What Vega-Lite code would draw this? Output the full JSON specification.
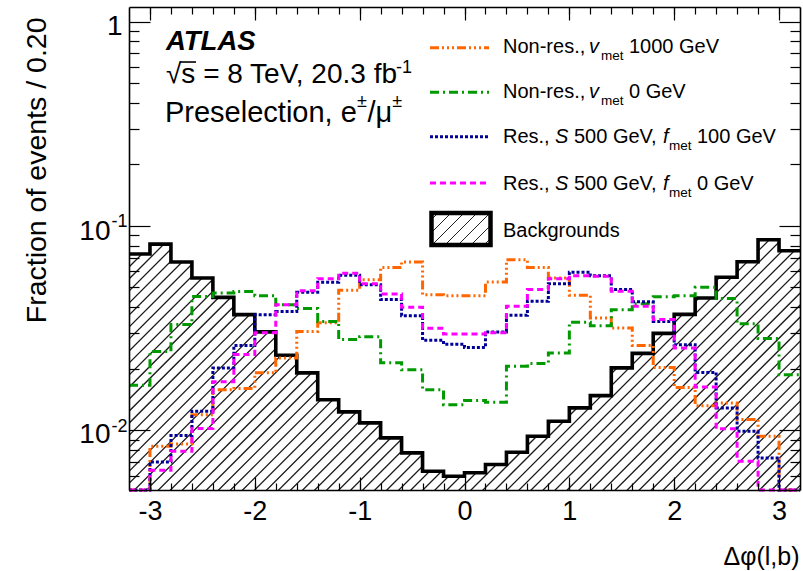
{
  "$schema": "https://vega.github.io/schema/vega-lite/v6.json",
  "width": 671,
  "height": 483,
  "autosize": {"type": "none"},
  "padding": {"left": 129, "top": 7, "right": 3, "bottom": 81},
  "background": "white",
  "config": {"view": {"stroke": null}, "font": "Liberation Sans"},
  "datasets": {
    "bins": [
      {"lo": -3.2, "hi": -3.0, "bkg": 0.0729, "nonres_v1000": 0.0051, "nonres_v0": 0.0166, "res_f100": 0.0051, "res_f0": 0.0051},
      {"lo": -3.0, "hi": -2.8, "bkg": 0.0815, "nonres_v1000": 0.00835, "nonres_v0": 0.0243, "res_f100": 0.0070, "res_f0": 0.00637},
      {"lo": -2.8, "hi": -2.6, "bkg": 0.0666, "nonres_v1000": 0.00856, "nonres_v0": 0.0329, "res_f100": 0.00942, "res_f0": 0.00789},
      {"lo": -2.6, "hi": -2.4, "bkg": 0.0556, "nonres_v1000": 0.0119, "nonres_v0": 0.0452, "res_f100": 0.0124, "res_f0": 0.0102},
      {"lo": -2.4, "hi": -2.2, "bkg": 0.0447, "nonres_v1000": 0.0158, "nonres_v0": 0.0470, "res_f100": 0.0202, "res_f0": 0.0173},
      {"lo": -2.2, "hi": -2.0, "bkg": 0.0368, "nonres_v1000": 0.0160, "nonres_v0": 0.0478, "res_f100": 0.0260, "res_f0": 0.0235},
      {"lo": -2.0, "hi": -1.8, "bkg": 0.0303, "nonres_v1000": 0.0191, "nonres_v0": 0.0456, "res_f100": 0.0368, "res_f0": 0.0300},
      {"lo": -1.8, "hi": -1.6, "bkg": 0.0233, "nonres_v1000": 0.0226, "nonres_v0": 0.0412, "res_f100": 0.0381, "res_f0": 0.0412},
      {"lo": -1.6, "hi": -1.4, "bkg": 0.0191, "nonres_v1000": 0.0304, "nonres_v0": 0.0394, "res_f100": 0.0474, "res_f0": 0.0482},
      {"lo": -1.4, "hi": -1.2, "bkg": 0.0141, "nonres_v1000": 0.0336, "nonres_v0": 0.0341, "res_f100": 0.0531, "res_f0": 0.0552},
      {"lo": -1.2, "hi": -1.0, "bkg": 0.0123, "nonres_v1000": 0.0485, "nonres_v0": 0.0278, "res_f100": 0.0574, "res_f0": 0.0587},
      {"lo": -1.0, "hi": -0.8, "bkg": 0.01087, "nonres_v1000": 0.0546, "nonres_v0": 0.0287, "res_f100": 0.0516, "res_f0": 0.0522},
      {"lo": -0.8, "hi": -0.6, "bkg": 0.00918, "nonres_v1000": 0.0627, "nonres_v0": 0.0214, "res_f100": 0.0436, "res_f0": 0.0465},
      {"lo": -0.6, "hi": -0.4, "bkg": 0.00775, "nonres_v1000": 0.0666, "nonres_v0": 0.0198, "res_f100": 0.0364, "res_f0": 0.0400},
      {"lo": -0.4, "hi": -0.2, "bkg": 0.0063, "nonres_v1000": 0.0461, "nonres_v0": 0.0158, "res_f100": 0.0276, "res_f0": 0.0316},
      {"lo": -0.2, "hi": 0.0, "bkg": 0.00596, "nonres_v1000": 0.0456, "nonres_v0": 0.01335, "res_f100": 0.0264, "res_f0": 0.0296},
      {"lo": 0.0, "hi": 0.2, "bkg": 0.00619, "nonres_v1000": 0.0456, "nonres_v0": 0.0140, "res_f100": 0.0254, "res_f0": 0.0296},
      {"lo": 0.2, "hi": 0.4, "bkg": 0.0068, "nonres_v1000": 0.0532, "nonres_v0": 0.0137, "res_f100": 0.0303, "res_f0": 0.0300},
      {"lo": 0.4, "hi": 0.6, "bkg": 0.0078, "nonres_v1000": 0.0684, "nonres_v0": 0.0206, "res_f100": 0.0366, "res_f0": 0.0405},
      {"lo": 0.6, "hi": 0.8, "bkg": 0.00935, "nonres_v1000": 0.0627, "nonres_v0": 0.0212, "res_f100": 0.0428, "res_f0": 0.0488},
      {"lo": 0.8, "hi": 1.0, "bkg": 0.01107, "nonres_v1000": 0.0556, "nonres_v0": 0.0239, "res_f100": 0.0522, "res_f0": 0.0552},
      {"lo": 1.0, "hi": 1.2, "bkg": 0.01287, "nonres_v1000": 0.0458, "nonres_v0": 0.0338, "res_f100": 0.0594, "res_f0": 0.0571},
      {"lo": 1.2, "hi": 1.4, "bkg": 0.01478, "nonres_v1000": 0.0354, "nonres_v0": 0.0325, "res_f100": 0.0571, "res_f0": 0.0568},
      {"lo": 1.4, "hi": 1.6, "bkg": 0.0202, "nonres_v1000": 0.0317, "nonres_v0": 0.0389, "res_f100": 0.0488, "res_f0": 0.0479},
      {"lo": 1.6, "hi": 1.8, "bkg": 0.0238, "nonres_v1000": 0.0260, "nonres_v0": 0.0416, "res_f100": 0.0426, "res_f0": 0.0405},
      {"lo": 1.8, "hi": 2.0, "bkg": 0.0298, "nonres_v1000": 0.0203, "nonres_v0": 0.0450, "res_f100": 0.0341, "res_f0": 0.0348},
      {"lo": 2.0, "hi": 2.2, "bkg": 0.0369, "nonres_v1000": 0.0162, "nonres_v0": 0.0456, "res_f100": 0.0262, "res_f0": 0.0253},
      {"lo": 2.2, "hi": 2.4, "bkg": 0.0444, "nonres_v1000": 0.0132, "nonres_v0": 0.0501, "res_f100": 0.0192, "res_f0": 0.0163},
      {"lo": 2.4, "hi": 2.6, "bkg": 0.0561, "nonres_v1000": 0.0136, "nonres_v0": 0.0441, "res_f100": 0.01287, "res_f0": 0.01016},
      {"lo": 2.6, "hi": 2.8, "bkg": 0.0668, "nonres_v1000": 0.0113, "nonres_v0": 0.0332, "res_f100": 0.00989, "res_f0": 0.00705},
      {"lo": 2.8, "hi": 3.0, "bkg": 0.0856, "nonres_v1000": 0.00935, "nonres_v0": 0.0281, "res_f100": 0.00731, "res_f0": 0.0051},
      {"lo": 3.0, "hi": 3.2, "bkg": 0.0756, "nonres_v1000": 0.0051, "nonres_v0": 0.0187, "res_f100": 0.0051, "res_f0": 0.0051}
    ]
  },
  "resolve": {"axis": {"x": "independent", "y": "independent"}},
  "layer": [
    {
      "description": "Diagonal hatching: one very wide dashed rule at 45 degrees, clipped to the frame",
      "data": {"values": [{}]},
      "mark": {"type": "rule", "clip": true, "stroke": "#1a1a1a", "strokeWidth": 1100, "strokeDash": [1.3, 7.2]},
      "encoding": {
        "x": {"datum": -4.2, "type": "quantitative",
              "scale": {"domain": [-3.2, 3.2], "nice": false, "zero": false},
              "axis": {"orient": "bottom", "values": [-3.0,-2.8,-2.6,-2.4,-2.2,-2.0,-1.8,-1.6,-1.4,-1.2,-1.0,-0.8,-0.6,-0.4,-0.2,0,0.2,0.4,0.6,0.8,1.0,1.2,1.4,1.6,1.8,2.0,2.2,2.4,2.6,2.8,3.0],
                       "tickSize": -7, "tickWidth": 1.2, "tickColor": "black", "domain": false, "labels": false, "title": null, "grid": false, "zindex": 1}},
        "y": {"datum": 3.848, "type": "quantitative",
              "scale": {"type": "log", "domain": [0.0051, 1.18], "nice": false},
              "axis": {"orient": "left", "values": [0.006,0.007,0.008,0.009,0.02,0.03,0.04,0.05,0.06,0.07,0.08,0.09,0.2,0.3,0.4,0.5,0.6,0.7,0.8,0.9],
                       "tickSize": -10, "tickWidth": 1.2, "tickColor": "black", "domain": false, "labels": false, "title": null, "grid": false, "zindex": 1}},
        "x2": {"datum": 4.2},
        "y2": {"datum": 0.000188}
      }
    },
    {
      "description": "White cover above the background histogram so the hatching only shows below it",
      "data": {"name": "bins"},
      "mark": {"type": "rect", "clip": true, "fill": "white", "stroke": "white", "strokeWidth": 1},
      "encoding": {
        "x": {"field": "lo", "type": "quantitative",
              "scale": {"domain": [-3.2, 3.2], "nice": false, "zero": false},
              "axis": {"orient": "top", "values": [-3.0,-2.8,-2.6,-2.4,-2.2,-2.0,-1.8,-1.6,-1.4,-1.2,-1.0,-0.8,-0.6,-0.4,-0.2,0,0.2,0.4,0.6,0.8,1.0,1.2,1.4,1.6,1.8,2.0,2.2,2.4,2.6,2.8,3.0],
                       "tickSize": -7, "tickWidth": 1.2, "tickColor": "black", "domain": false, "labels": false, "title": null, "grid": false, "zindex": 1}},
        "x2": {"field": "hi"},
        "y": {"field": "bkg", "type": "quantitative",
              "scale": {"type": "log", "domain": [0.0051, 1.18], "nice": false},
              "axis": {"orient": "right", "values": [0.006,0.007,0.008,0.009,0.02,0.03,0.04,0.05,0.06,0.07,0.08,0.09,0.2,0.3,0.4,0.5,0.6,0.7,0.8,0.9],
                       "tickSize": -10, "tickWidth": 1.2, "tickColor": "black", "domain": false, "labels": false, "title": null, "grid": false, "zindex": 1}},
        "y2": {"datum": 1.18}
      }
    },
    {
      "description": "Background histogram outline",
      "data": {"name": "bins"},
      "transform": [{"fold": ["lo", "hi"], "as": ["edge", "phi"]}],
      "mark": {"type": "line", "stroke": "black", "strokeWidth": 3.6, "strokeJoin": "miter", "clip": true},
      "encoding": {
        "x": {"field": "phi", "type": "quantitative",
              "scale": {"domain": [-3.2, 3.2], "nice": false, "zero": false},
              "axis": {"orient": "bottom", "values": [-3, -2, -1, 0, 1, 2, 3],
                       "tickSize": -13, "tickWidth": 1.2, "tickColor": "black",
                       "domain": true, "domainColor": "black", "domainWidth": 1.6,
                       "labels": true, "labelExpr": "'' + datum.value", "labelFont": "Liberation Sans", "labelFontSize": 27, "labelColor": "black",
                       "labelPadding": 21, "labelBaseline": "top", "labelFlush": false, "labelOverlap": false,
                       "title": "Δφ(l,b)", "titleFont": "Liberation Sans", "titleFontSize": 25, "titleFontWeight": "normal", "titleColor": "black",
                       "titleAnchor": "end", "titleAlign": "right", "titleBaseline": "alphabetic", "titleX": 670, "titleY": 74,
                       "grid": false, "zindex": 1}},
        "y": {"field": "bkg", "type": "quantitative",
              "scale": {"type": "log", "domain": [0.0051, 1.18], "nice": false},
              "axis": {"orient": "left", "values": [0.01, 0.1, 1],
                       "tickSize": -21, "tickWidth": 1.2, "tickColor": "black",
                       "domain": true, "domainColor": "black", "domainWidth": 1.6, "labels": false,
                       "title": "Fraction of events / 0.20", "titleFont": "Liberation Sans", "titleFontSize": 28.5, "titleFontWeight": "normal", "titleColor": "black",
                       "titleAngle": -90, "titleAlign": "right", "titleBaseline": "alphabetic", "titleX": -84, "titleY": 10,
                       "grid": false, "zindex": 1}},
        "order": [{"field": "lo", "type": "quantitative"}, {"field": "edge", "type": "ordinal", "sort": "descending"}]
      }
    },
    {
      "description": "Signal histograms drawn as dashed step lines",
      "data": {"name": "bins"},
      "transform": [
        {"fold": ["nonres_v1000", "nonres_v0", "res_f100", "res_f0"], "as": ["sample", "frac"]},
        {"fold": ["lo", "hi"], "as": ["edge", "phi"]}
      ],
      "mark": {"type": "line", "strokeWidth": 3, "strokeJoin": "miter"},
      "encoding": {
        "x": {"field": "phi", "type": "quantitative",
              "scale": {"domain": [-3.2, 3.2], "nice": false, "zero": false},
              "axis": {"orient": "top", "values": [-3, -2, -1, 0, 1, 2, 3],
                       "tickSize": -13, "tickWidth": 1.2, "tickColor": "black",
                       "domain": true, "domainColor": "black", "domainWidth": 1.6, "labels": false, "title": null, "grid": false, "zindex": 1}},
        "y": {"field": "frac", "type": "quantitative",
              "scale": {"type": "log", "domain": [0.0051, 1.18], "nice": false},
              "axis": {"orient": "right", "values": [0.01, 0.1, 1],
                       "tickSize": -21, "tickWidth": 1.2, "tickColor": "black",
                       "domain": true, "domainColor": "black", "domainWidth": 1.6, "labels": false, "title": null, "grid": false, "zindex": 1}},
        "color": {"field": "sample", "type": "nominal", "legend": null,
                  "scale": {"domain": ["nonres_v1000", "nonres_v0", "res_f100", "res_f0"], "range": ["#FF6600", "#009900", "#000099", "#FF00FF"]}},
        "strokeDash": {"field": "sample", "type": "nominal", "legend": null,
                       "scale": {"domain": ["nonres_v1000", "nonres_v0", "res_f100", "res_f0"], "range": [[9, 3, 2, 3, 2, 3, 2, 3], [9, 4, 2, 4], [3, 2], [6, 4]]}},
        "order": [{"field": "lo", "type": "quantitative"}, {"field": "edge", "type": "ordinal", "sort": "descending"}]
      }
    },
    {
      "data": {"values": [{}]},
      "mark": {"type": "rule", "stroke": "#FF6600", "strokeWidth": 3, "strokeDash": [9, 3, 2, 3, 2, 3, 2, 3]},
      "encoding": {"x": {"datum": -0.32906, "axis": null}, "x2": {"datum": 0.23368}, "y": {"datum": 0.74594, "axis": null}}
    },
    {
      "data": {"values": [{}]},
      "mark": {"type": "rule", "stroke": "#009900", "strokeWidth": 3, "strokeDash": [9, 4, 2, 4]},
      "encoding": {"x": {"datum": -0.32906, "axis": null}, "x2": {"datum": 0.23368}, "y": {"datum": 0.45114, "axis": null}}
    },
    {
      "data": {"values": [{}]},
      "mark": {"type": "rule", "stroke": "#000099", "strokeWidth": 3, "strokeDash": [3, 2]},
      "encoding": {"x": {"datum": -0.32906, "axis": null}, "x2": {"datum": 0.23368}, "y": {"datum": 0.27350, "axis": null}}
    },
    {
      "data": {"values": [{}]},
      "mark": {"type": "rule", "stroke": "#FF00FF", "strokeWidth": 3, "strokeDash": [6, 4]},
      "encoding": {"x": {"datum": -0.32906, "axis": null}, "x2": {"datum": 0.23368}, "y": {"datum": 0.16230, "axis": null}}
    },
    {
      "description": "Hatched legend swatch for the backgrounds",
      "data": {"values": [{}]},
      "mark": {"type": "rect", "stroke": "black", "strokeWidth": 4.5,
               "fill": {"gradient": "linear", "x1": 0, "y1": 0, "x2": 1.2, "y2": 0.651,
                        "stops": [
                          {"offset": 0, "color": "white"},
                          {"offset": 0.0609, "color": "white"}, {"offset": 0.0609, "color": "#222222"}, {"offset": 0.0809, "color": "#222222"}, {"offset": 0.0809, "color": "white"},
                          {"offset": 0.2028, "color": "white"}, {"offset": 0.2028, "color": "#222222"}, {"offset": 0.2228, "color": "#222222"}, {"offset": 0.2228, "color": "white"},
                          {"offset": 0.3447, "color": "white"}, {"offset": 0.3447, "color": "#222222"}, {"offset": 0.3647, "color": "#222222"}, {"offset": 0.3647, "color": "white"},
                          {"offset": 0.4866, "color": "white"}, {"offset": 0.4866, "color": "#222222"}, {"offset": 0.5066, "color": "#222222"}, {"offset": 0.5066, "color": "white"},
                          {"offset": 0.6285, "color": "white"}, {"offset": 0.6285, "color": "#222222"}, {"offset": 0.6485, "color": "#222222"}, {"offset": 0.6485, "color": "white"},
                          {"offset": 0.7704, "color": "white"}, {"offset": 0.7704, "color": "#222222"}, {"offset": 0.7904, "color": "#222222"}, {"offset": 0.7904, "color": "white"},
                          {"offset": 0.9122, "color": "white"}, {"offset": 0.9122, "color": "#222222"}, {"offset": 0.9322, "color": "#222222"}, {"offset": 0.9322, "color": "white"},
                          {"offset": 1, "color": "white"}
                        ]}},
      "encoding": {"x": {"datum": -0.31475, "axis": null}, "x2": {"datum": 0.24799}, "y": {"datum": 0.11575, "axis": null}, "y2": {"datum": 0.080701}}
    },
    {"data": {"values": [{"t": "Non-res.,"}]}, "mark": {"type": "text", "fontSize": 20, "align": "left", "baseline": "alphabetic", "color": "black"},
     "encoding": {"x": {"datum": 0.36721, "axis": null}, "y": {"datum": 0.70026, "axis": null}, "text": {"field": "t"}}},
    {"data": {"values": [{"t": "v"}]}, "mark": {"type": "text", "fontSize": 20, "fontStyle": "italic", "align": "left", "baseline": "alphabetic", "color": "black"},
     "encoding": {"x": {"datum": 1.18748, "axis": null}, "y": {"datum": 0.70026, "axis": null}, "text": {"field": "t"}}},
    {"data": {"values": [{"t": "met"}]}, "mark": {"type": "text", "fontSize": 13.5, "align": "left", "baseline": "alphabetic", "color": "black"},
     "encoding": {"x": {"datum": 1.30194, "axis": null}, "y": {"datum": 0.65060, "axis": null}, "text": {"field": "t"}}},
    {"data": {"values": [{"t": "1000 GeV"}]}, "mark": {"type": "text", "fontSize": 20, "align": "left", "baseline": "alphabetic", "color": "black"},
     "encoding": {"x": {"datum": 1.56900, "axis": null}, "y": {"datum": 0.70026, "axis": null}, "text": {"field": "t"}}},
    {"data": {"values": [{"t": "Non-res.,"}]}, "mark": {"type": "text", "fontSize": 20, "align": "left", "baseline": "alphabetic", "color": "black"},
     "encoding": {"x": {"datum": 0.36721, "axis": null}, "y": {"datum": 0.42161, "axis": null}, "text": {"field": "t"}}},
    {"data": {"values": [{"t": "v"}]}, "mark": {"type": "text", "fontSize": 20, "fontStyle": "italic", "align": "left", "baseline": "alphabetic", "color": "black"},
     "encoding": {"x": {"datum": 1.18748, "axis": null}, "y": {"datum": 0.42161, "axis": null}, "text": {"field": "t"}}},
    {"data": {"values": [{"t": "met"}]}, "mark": {"type": "text", "fontSize": 13.5, "align": "left", "baseline": "alphabetic", "color": "black"},
     "encoding": {"x": {"datum": 1.30194, "axis": null}, "y": {"datum": 0.39187, "axis": null}, "text": {"field": "t"}}},
    {"data": {"values": [{"t": "0 GeV"}]}, "mark": {"type": "text", "fontSize": 20, "align": "left", "baseline": "alphabetic", "color": "black"},
     "encoding": {"x": {"datum": 1.56900, "axis": null}, "y": {"datum": 0.42161, "axis": null}, "text": {"field": "t"}}},
    {"data": {"values": [{"t": "Res.,"}]}, "mark": {"type": "text", "fontSize": 20, "align": "left", "baseline": "alphabetic", "color": "black"},
     "encoding": {"x": {"datum": 0.36721, "axis": null}, "y": {"datum": 0.25388, "axis": null}, "text": {"field": "t"}}},
    {"data": {"values": [{"t": "S"}]}, "mark": {"type": "text", "fontSize": 20, "fontStyle": "italic", "align": "left", "baseline": "alphabetic", "color": "black"},
     "encoding": {"x": {"datum": 0.86319, "axis": null}, "y": {"datum": 0.25388, "axis": null}, "text": {"field": "t"}}},
    {"data": {"values": [{"t": "500 GeV,"}]}, "mark": {"type": "text", "fontSize": 20, "align": "left", "baseline": "alphabetic", "color": "black"},
     "encoding": {"x": {"datum": 1.04441, "axis": null}, "y": {"datum": 0.25388, "axis": null}, "text": {"field": "t"}}},
    {"data": {"values": [{"t": "f"}]}, "mark": {"type": "text", "fontSize": 20, "fontStyle": "italic", "align": "left", "baseline": "alphabetic", "color": "black"},
     "encoding": {"x": {"datum": 1.89329, "axis": null}, "y": {"datum": 0.25388, "axis": null}, "text": {"field": "t"}}},
    {"data": {"values": [{"t": "met"}]}, "mark": {"type": "text", "fontSize": 13.5, "align": "left", "baseline": "alphabetic", "color": "black"},
     "encoding": {"x": {"datum": 1.95052, "axis": null}, "y": {"datum": 0.23597, "axis": null}, "text": {"field": "t"}}},
    {"data": {"values": [{"t": "100 GeV"}]}, "mark": {"type": "text", "fontSize": 20, "align": "left", "baseline": "alphabetic", "color": "black"},
     "encoding": {"x": {"datum": 2.21759, "axis": null}, "y": {"datum": 0.25388, "axis": null}, "text": {"field": "t"}}},
    {"data": {"values": [{"t": "Res.,"}]}, "mark": {"type": "text", "fontSize": 20, "align": "left", "baseline": "alphabetic", "color": "black"},
     "encoding": {"x": {"datum": 0.36721, "axis": null}, "y": {"datum": 0.14995, "axis": null}, "text": {"field": "t"}}},
    {"data": {"values": [{"t": "S"}]}, "mark": {"type": "text", "fontSize": 20, "fontStyle": "italic", "align": "left", "baseline": "alphabetic", "color": "black"},
     "encoding": {"x": {"datum": 0.86319, "axis": null}, "y": {"datum": 0.14995, "axis": null}, "text": {"field": "t"}}},
    {"data": {"values": [{"t": "500 GeV,"}]}, "mark": {"type": "text", "fontSize": 20, "align": "left", "baseline": "alphabetic", "color": "black"},
     "encoding": {"x": {"datum": 1.04441, "axis": null}, "y": {"datum": 0.14995, "axis": null}, "text": {"field": "t"}}},
    {"data": {"values": [{"t": "f"}]}, "mark": {"type": "text", "fontSize": 20, "fontStyle": "italic", "align": "left", "baseline": "alphabetic", "color": "black"},
     "encoding": {"x": {"datum": 1.89329, "axis": null}, "y": {"datum": 0.14995, "axis": null}, "text": {"field": "t"}}},
    {"data": {"values": [{"t": "met"}]}, "mark": {"type": "text", "fontSize": 13.5, "align": "left", "baseline": "alphabetic", "color": "black"},
     "encoding": {"x": {"datum": 1.95052, "axis": null}, "y": {"datum": 0.13938, "axis": null}, "text": {"field": "t"}}},
    {"data": {"values": [{"t": "0 GeV"}]}, "mark": {"type": "text", "fontSize": 20, "align": "left", "baseline": "alphabetic", "color": "black"},
     "encoding": {"x": {"datum": 2.21759, "axis": null}, "y": {"datum": 0.14995, "axis": null}, "text": {"field": "t"}}},
    {"data": {"values": [{"t": "Backgrounds"}]}, "mark": {"type": "text", "fontSize": 20, "align": "left", "baseline": "alphabetic", "color": "black"},
     "encoding": {"x": {"datum": 0.36721, "axis": null}, "y": {"datum": 0.088602, "axis": null}, "text": {"field": "t"}}},
    {"data": {"values": [{"t": "ATLAS"}]}, "mark": {"type": "text", "fontSize": 27.5, "fontWeight": "bold", "fontStyle": "italic", "align": "left", "baseline": "alphabetic", "color": "black"},
     "encoding": {"x": {"datum": -2.8471, "axis": null}, "y": {"datum": 0.72687, "axis": null}, "text": {"field": "t"}}},
    {"data": {"values": [{"t": "√s = 8 TeV, 20.3 fb"}]}, "mark": {"type": "text", "fontSize": 28, "align": "left", "baseline": "alphabetic", "color": "black"},
     "encoding": {"x": {"datum": -2.8471, "axis": null}, "y": {"datum": 0.49930, "axis": null}, "text": {"field": "t"}}},
    {
      "description": "Bar over the s under the square root",
      "data": {"values": [{}]},
      "mark": {"type": "rule", "stroke": "black", "strokeWidth": 1.6},
      "encoding": {"x": {"datum": -2.71356, "axis": null}, "x2": {"datum": -2.56096}, "y": {"datum": 0.63468, "axis": null}}
    },
    {"data": {"values": [{"t": "-1"}]}, "mark": {"type": "text", "fontSize": 18, "align": "left", "baseline": "alphabetic", "color": "black"},
     "encoding": {"x": {"datum": -0.65335, "axis": null}, "y": {"datum": 0.55893, "axis": null}, "text": {"field": "t"}}},
    {"data": {"values": [{"t": "Preselection, e"}]}, "mark": {"type": "text", "fontSize": 29, "align": "left", "baseline": "alphabetic", "color": "black"},
     "encoding": {"x": {"datum": -2.8567, "axis": null}, "y": {"datum": 0.32396, "axis": null}, "text": {"field": "t"}}},
    {"data": {"values": [{"t": "±"}]}, "mark": {"type": "text", "fontSize": 18, "align": "left", "baseline": "alphabetic", "color": "black"},
     "encoding": {"x": {"datum": -1.02534, "axis": null}, "y": {"datum": 0.38226, "axis": null}, "text": {"field": "t"}}},
    {"data": {"values": [{"t": "/μ"}]}, "mark": {"type": "text", "fontSize": 29, "align": "left", "baseline": "alphabetic", "color": "black"},
     "encoding": {"x": {"datum": -0.92519, "axis": null}, "y": {"datum": 0.32396, "axis": null}, "text": {"field": "t"}}},
    {"data": {"values": [{"t": "±"}]}, "mark": {"type": "text", "fontSize": 18, "align": "left", "baseline": "alphabetic", "color": "black"},
     "encoding": {"x": {"datum": -0.68864, "axis": null}, "y": {"datum": 0.38226, "axis": null}, "text": {"field": "t"}}},
    {"data": {"values": [{"t": "1"}]}, "mark": {"type": "text", "fontSize": 28, "align": "right", "baseline": "alphabetic", "color": "black"},
     "encoding": {"x": {"datum": -3.262, "axis": null}, "y": {"datum": 0.86062, "axis": null}, "text": {"field": "t"}}},
    {"data": {"values": [{"t": "10"}]}, "mark": {"type": "text", "fontSize": 28, "align": "right", "baseline": "alphabetic", "color": "black"},
     "encoding": {"x": {"datum": -3.3765, "axis": null}, "y": {"datum": 0.085371, "axis": null}, "text": {"field": "t"}}},
    {"data": {"values": [{"t": "-1"}]}, "mark": {"type": "text", "fontSize": 18, "align": "left", "baseline": "alphabetic", "color": "black"},
     "encoding": {"x": {"datum": -3.3669, "axis": null}, "y": {"datum": 0.098836, "axis": null}, "text": {"field": "t"}}},
    {"data": {"values": [{"t": "10"}]}, "mark": {"type": "text", "fontSize": 28, "align": "right", "baseline": "alphabetic", "color": "black"},
     "encoding": {"x": {"datum": -3.3765, "axis": null}, "y": {"datum": 0.0086138, "axis": null}, "text": {"field": "t"}}},
    {"data": {"values": [{"t": "-2"}]}, "mark": {"type": "text", "fontSize": 18, "align": "left", "baseline": "alphabetic", "color": "black"},
     "encoding": {"x": {"datum": -3.3669, "axis": null}, "y": {"datum": 0.0098604, "axis": null}, "text": {"field": "t"}}}
  ]
}
